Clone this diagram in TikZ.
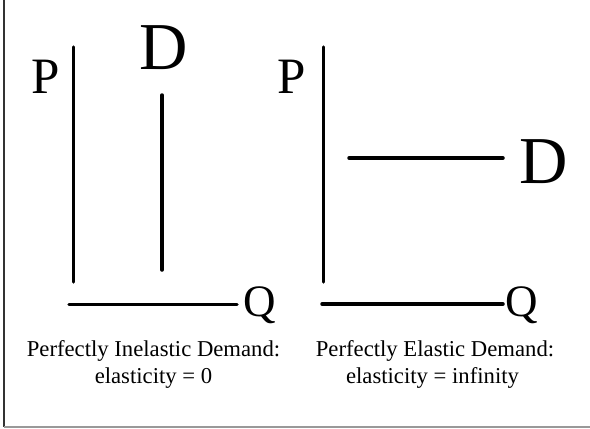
\documentclass[tikz,border=0pt]{standalone}
\usepackage{fontspec}
\setmainfont{Liberation Serif}
\tikzset{
  axisline/.style={line width=3.5pt, line cap=round},
  biglabel/.style={inner sep=0pt, anchor=base, font=\fontsize{51}{51}\selectfont},
  dlabel/.style={inner sep=0pt, anchor=base, font=\fontsize{67}{67}\selectfont},
  qlabel/.style={inner sep=0pt, anchor=base, font=\fontsize{45}{45}\selectfont},
  caption/.style={inner sep=0pt, anchor=base, font=\fontsize{22.7}{27}\selectfont},
}
\begin{document}
\begin{tikzpicture}[x=1pt, y=-1pt]
\useasboundingbox (0,0) rectangle (590,429);
% frame
\coordinate (ftop) at (4,0);
\coordinate (fcorner) at (4,427);
\coordinate (fright) at (590,427);
\draw[line width=1.2pt, black!80] (ftop) -- (fcorner);
\draw[line width=1.2pt, black!40] (fcorner) -- (fright);
% left graph
\coordinate (lpt) at (73.5,47);
\coordinate (lpb) at (73.5,282);
\coordinate (lqa) at (69,304.5);
\coordinate (lqb) at (237,304.5);
\coordinate (ldt) at (162,95);
\coordinate (ldb) at (162,270);
\draw[axisline] (lpt) -- (lpb);
\draw[axisline] (lqa) -- (lqb);
\draw[axisline] (ldt) -- (ldb);
\node[biglabel] (lP) at (45.5,93) {P};
\node[dlabel] (lD) at (163.5,69) {D};
\node[qlabel] (lQ) at (260,316) {Q};
% right graph
\coordinate (rpt) at (323.5,47);
\coordinate (rpb) at (323.5,282);
\coordinate (rqa) at (322,304);
\coordinate (rqb) at (503,304);
\coordinate (rda) at (349,158);
\coordinate (rdb) at (503,158);
\draw[axisline] (rpt) -- (rpb);
\draw[axisline] (rqa) -- (rqb);
\draw[axisline] (rda) -- (rdb);
\node[biglabel] (rP) at (291.5,93) {P};
\node[dlabel] (rD) at (543.5,183) {D};
\node[qlabel] (rQ) at (522,316) {Q};
% captions
\node[caption] (lcap1) at (153.5,356) {Perfectly Inelastic Demand:};
\node[caption] (lcap2) at (153.5,383) {elasticity = 0};
\node[caption] (rcap1) at (435,356) {Perfectly Elastic Demand:};
\node[caption] (rcap2) at (432.5,383) {elasticity = infinity};
\end{tikzpicture}
\end{document}
